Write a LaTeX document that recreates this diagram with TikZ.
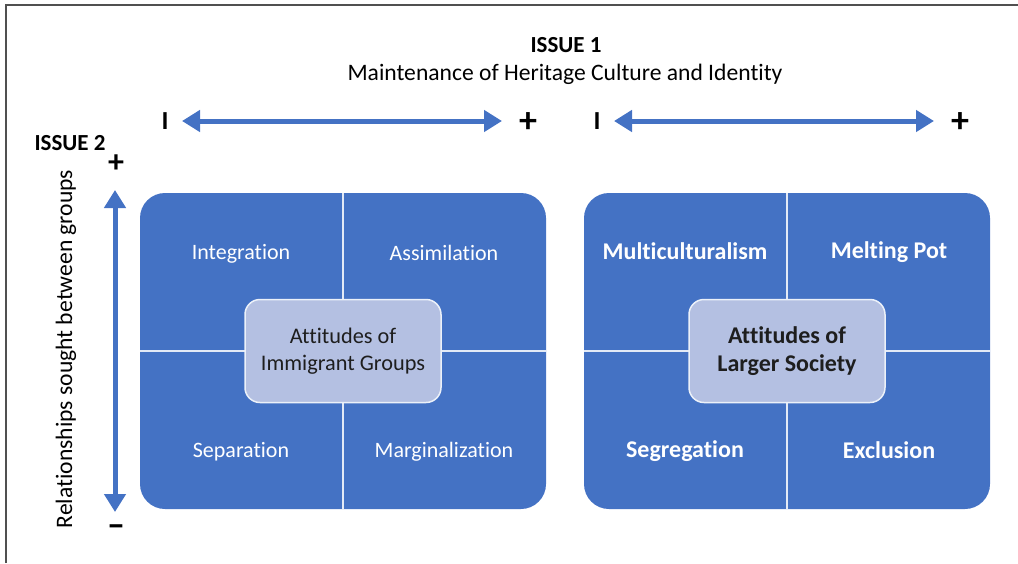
\documentclass[tikz,border=0pt]{standalone}
\usepackage{fontspec}
\setmainfont{Carlito}[Ligatures=NoCommon]
\usetikzlibrary{arrows.meta}
\definecolor{pblue}{HTML}{4472C4}
\definecolor{plight}{HTML}{B4C0E2}
\definecolor{ptext}{HTML}{1E1E1E}
\definecolor{pframe}{HTML}{505050}
\tikzset{
  panel/.style={fill=pblue, draw=none, rounded corners=25pt, minimum width=406pt, minimum height=316pt, inner sep=0pt},
  divider/.style={draw=white!85!pblue, line width=1.3pt},
  centerbox/.style={fill=plight, draw=white!90!pblue, line width=1.5pt, rounded corners=15pt, minimum width=196pt, minimum height=103pt, align=center, text=ptext, font=\fontsize{22.3}{27}\selectfont},
  centerboxb/.style={centerbox, font=\fontsize{24}{28}\selectfont\bfseries},
  qlabel/.style={text=white, font=\fontsize{22}{26}\selectfont},
  qlabelb/.style={text=white, font=\fontsize{24}{28}\selectfont\bfseries},
  axis/.style={draw=pblue, line width=5pt, {Triangle[width=21pt,length=18pt]}-{Triangle[width=21pt,length=18pt]}, shorten <=0pt, shorten >=0pt},
  sign/.style={text=black, font=\fontsize{26}{30}\selectfont\bfseries, inner sep=0pt},
  plus/.style={sign, font=\fontsize{36}{36}\selectfont\bfseries},
  title/.style={text=black, font=\fontsize{23.6}{28}\selectfont},
}
\begin{document}
\begin{tikzpicture}[x=1pt,y=-1pt]
\useasboundingbox (0,0) rectangle (1018,563);
% frame
\draw[pframe, line width=1.5pt] (6,563) -- (6,5) -- (1018,5);

% titles
\node[title, font=\fontsize{23}{27}\selectfont\bfseries] (issue1) at (566,45) {ISSUE 1};
\node[title] (maint) at (565,74) {Maintenance of Heritage Culture and Identity};
\node[title, font=\fontsize{23}{27}\selectfont\bfseries] (issue2) at (70,143) {ISSUE 2};
\node[title, rotate=90] (rel) at (66,349) {Relationships sought between groups};

% horizontal axes
\node[sign] (l1) at (165,121) {I};
\node[plus] (p1) at (528,123) {+};
\coordinate (a1s) at (182,121);
\coordinate (a1e) at (502,121);
\draw[axis] (a1s) -- (a1e);
\node[sign] (l2) at (597,121) {I};
\node[plus] (p2) at (960,123) {+};
\coordinate (a2s) at (614,121);
\coordinate (a2e) at (934,121);
\draw[axis] (a2s) -- (a2e);

% vertical axis
\node[plus, font=\fontsize{32}{32}\selectfont\bfseries] (vp) at (116,164) {+};
\node[sign, font=\fontsize{36}{36}\selectfont\bfseries] (vm) at (116,531) {–};
\coordinate (v1s) at (115,190);
\coordinate (v1e) at (115,512);
\draw[axis] (v1s) -- (v1e);

% left panel
\node[panel] (lp) at (343,351) {};
\draw[divider] (lp.north) -- (lp.south);
\draw[divider] (lp.west) -- (lp.east);
\node[qlabel] (int) at (241,254) {Integration};
\node[qlabel] (ass) at (444,253) {Assimilation};
\node[qlabel] (sep) at (241,452) {Separation};
\node[qlabel] (mar) at (444,452) {Marginalization};
\node[centerbox] (lc) at (343,351) {Attitudes of\\Immigrant Groups};

% right panel
\node[panel] (rp) at (787,351) {};
\draw[divider] (rp.north) -- (rp.south);
\draw[divider] (rp.west) -- (rp.east);
\node[qlabelb] (mul) at (685,251) {Multiculturalism};
\node[qlabelb] (mel) at (889,252) {Melting Pot};
\node[qlabelb] (seg) at (685,451) {Segregation};
\node[qlabelb] (exc) at (889,450) {Exclusion};
\node[centerboxb] (rc) at (787,351) {Attitudes of\\Larger Society};
\end{tikzpicture}
\end{document}
